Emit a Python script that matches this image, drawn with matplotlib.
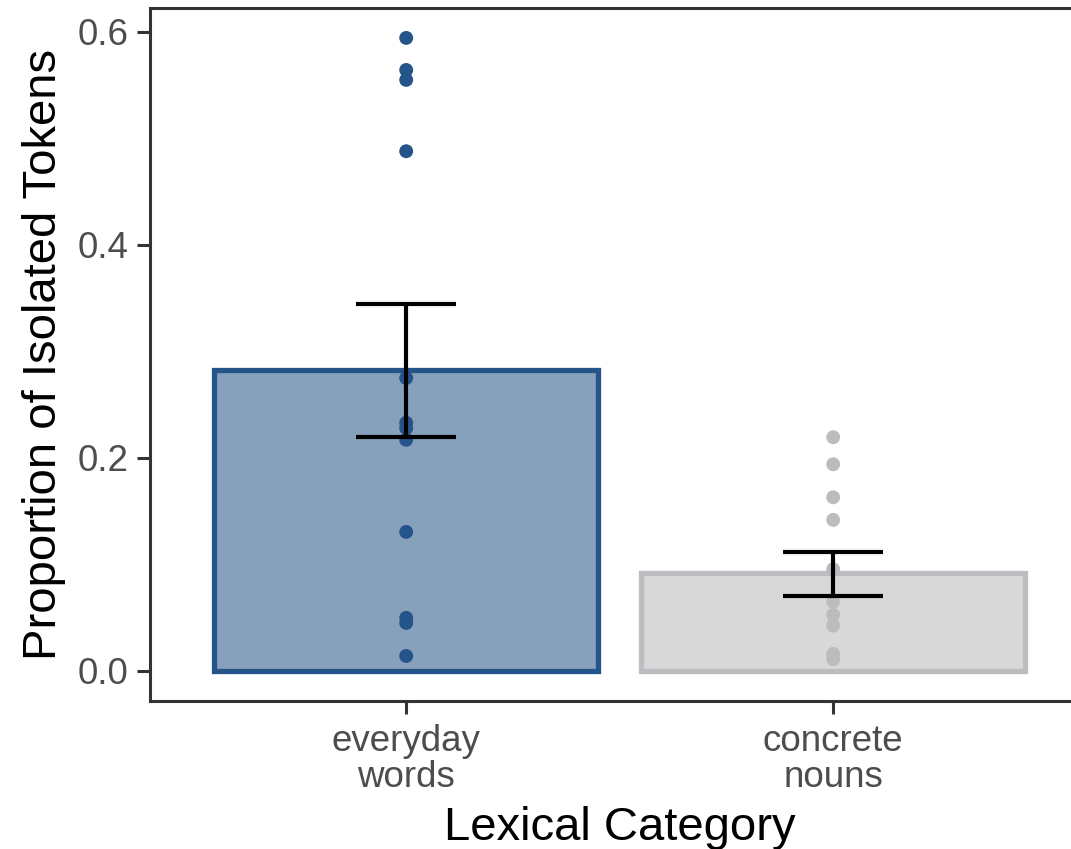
import numpy as np
import matplotlib.pyplot as plt

plt.rcParams['font.family'] = ['Liberation Sans', 'DejaVu Sans']

categories = ['everyday\nwords', 'concrete\nnouns']
bar_means = [0.2826, 0.0915]
err_low = [0.2197, 0.0704]
err_high = [0.3446, 0.1117]

everyday_points = [0.5944, 0.5643, 0.555, 0.488, 0.275, 0.233, 0.228, 0.217,
                   0.1305, 0.0498, 0.045, 0.014]
concrete_points = [0.2194, 0.194, 0.163, 0.1418, 0.0955, 0.065, 0.0526, 0.0425,
                   0.016, 0.011]

fills = ['#87A0BB', '#D8D8D8']
edges = ['#25548A', '#BCBDC1']
point_cols = ['#25548A', '#BBBCC0']

fig = plt.figure(figsize=(10.71, 8.49), dpi=100)
ax = fig.add_axes([150 / 1071, 148 / 849, 939.4 / 1071, 693 / 849])

x = np.arange(len(categories))
ax.bar(x, bar_means, width=0.9, color=fills, edgecolor=edges, linewidth=3.8, zorder=1)

for i, pts in enumerate([everyday_points, concrete_points]):
    ax.scatter(np.full(len(pts), x[i]), pts, s=100, color=point_cols[i],
               edgecolor='none', zorder=2)

means = np.array(bar_means)
yerr = [means - np.array(err_low), np.array(err_high) - means]
ax.errorbar(x, means, yerr=yerr, fmt='none', ecolor='black', elinewidth=3,
            capsize=36, capthick=3, zorder=3)

ax.set_xlim(-0.6, 1.6)
ax.set_ylim(-0.0283, 0.6225)
ax.set_xticks(x)
ax.set_xticklabels(categories, linespacing=1.05)
ax.set_yticks([0.0, 0.2, 0.4, 0.6])
ax.set_yticklabels(['0.0', '0.2', '0.4', '0.6'])

for side in ['left', 'bottom', 'top']:
    ax.spines[side].set_linewidth(2.2)
    ax.spines[side].set_color('#333333')
ax.spines['right'].set_visible(False)

ax.tick_params(axis='both', length=9.5, width=2.2, color='#333333',
               labelsize=26.5, labelcolor='#4D4D4D')
ax.tick_params(axis='x', pad=7)
ax.tick_params(axis='y', pad=6)

ax.set_xlabel('Lexical Category', fontsize=34, labelpad=8)
ax.set_ylabel('Proportion of Isolated Tokens', fontsize=34, labelpad=8)

fig.savefig('out.png', dpi=100)
